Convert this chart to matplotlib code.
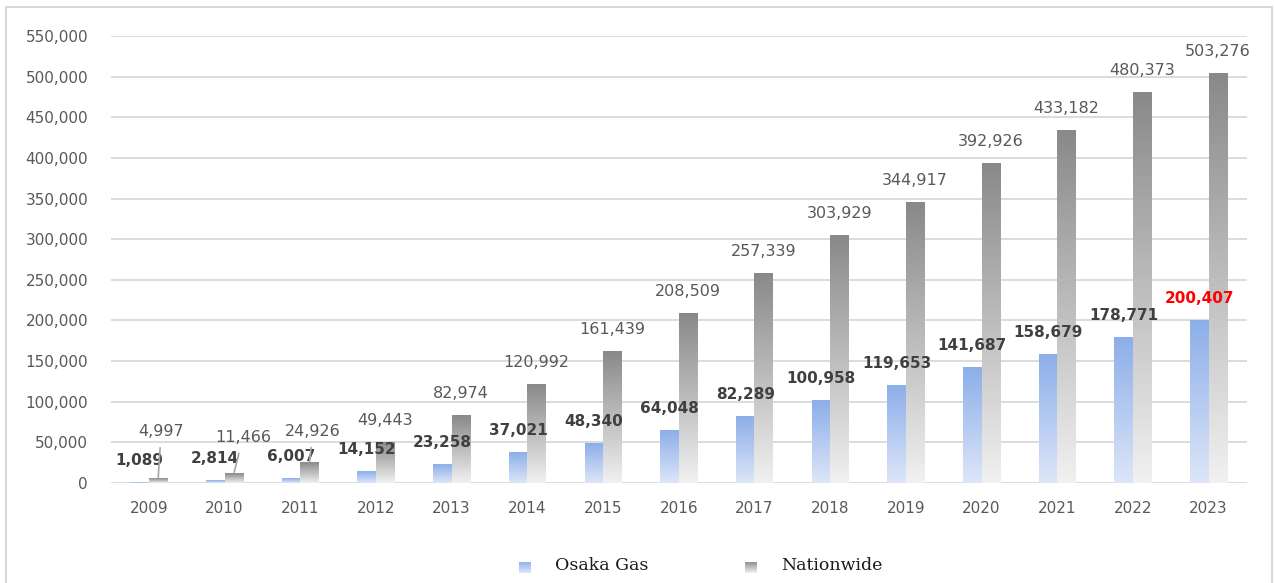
import numpy as np
import matplotlib
matplotlib.use('Agg')
import matplotlib.pyplot as plt
from matplotlib.colors import LinearSegmentedColormap
from matplotlib.patches import Rectangle
from matplotlib.ticker import FuncFormatter

# ========================= DATA =========================
years = ['2009', '2010', '2011', '2012', '2013', '2014', '2015', '2016',
         '2017', '2018', '2019', '2020', '2021', '2022', '2023']
osaka_gas = [1089, 2814, 6007, 14152, 23258, 37021, 48340, 64048,
             82289, 100958, 119653, 141687, 158679, 178771, 200407]
nationwide = [4997, 11466, 24926, 49443, 82974, 120992, 161439, 208509,
              257339, 303929, 344917, 392926, 433182, 480373, 503276]
series_names = ['Osaka Gas', 'Nationwide']

# colours (top, bottom) of the gradient fills
BLUE = ('#8caee9', '#dde6f8')
GREY = ('#898989', '#f1f1f1')
TXT = '#595959'

W, H = 1274, 583
fig = plt.figure(figsize=(W / 100, H / 100), dpi=100)
ax = fig.add_axes([111 / W, 100 / H, (1246.5 - 111) / W, 447 / H])


def gradient_bar(ax, patch, top, bottom):
    """Fill one bar with a vertical gradient (dark top, light bottom)."""
    x0, w, h = patch.get_x(), patch.get_width(), patch.get_height()
    cmap = LinearSegmentedColormap.from_list('g', [bottom, top])
    grad = np.linspace(0, 1, 256).reshape(-1, 1)
    ax.imshow(grad, extent=(x0, x0 + w, 0, h), origin='lower', cmap=cmap,
              aspect='auto', zorder=2, interpolation='bilinear')


x = np.arange(len(years))
bw = 0.245
bars_o = ax.bar(x - bw / 2, osaka_gas, bw, color='none', zorder=2)
bars_n = ax.bar(x + bw / 2, nationwide, bw, color='none', zorder=2)
for p in bars_o:
    gradient_bar(ax, p, *BLUE)
for p in bars_n:
    gradient_bar(ax, p, *GREY)

ax.set_xlim(-0.5, len(years) - 0.5)
ax.set_ylim(0, 550000)
ax.set_yticks(np.arange(0, 550001, 50000))
ax.yaxis.set_major_formatter(FuncFormatter(lambda v, _: f'{v:,.0f}'))
ax.set_xticks(x)
ax.set_xticklabels(years)
ax.grid(True, axis='y', color='#d9d9d9', linewidth=1.3, zorder=0)
ax.set_axisbelow(True)
for s in ax.spines.values():
    s.set_visible(False)
ax.tick_params(axis='y', length=0, pad=16.5, labelsize=11, labelcolor=TXT)
ax.tick_params(axis='x', length=0, pad=13, labelsize=11, labelcolor=TXT)

# data labels
for i, p in enumerate(bars_o):
    cx = p.get_x() + p.get_width() / 2
    color = 'red' if i == len(years) - 1 else '#404040'
    ax.annotate(f'{osaka_gas[i]:,}', (cx, p.get_height()), xytext=(0, 22),
                textcoords='offset pixels', ha='center', va='center',
                fontsize=11, fontweight='bold', color=color, zorder=5)

# labels moved away from small bars, with leader lines (pixel offsets)
moved = {0: (3, 47), 1: (9, 36), 2: (3, 31)}
for i, p in enumerate(bars_n):
    cx = p.get_x() + p.get_width() / 2
    if i in moved:
        ax.annotate(f'{nationwide[i]:,}', (cx, p.get_height()), xytext=moved[i],
                    textcoords='offset pixels', ha='center', va='center',
                    fontsize=11.5, color=TXT, zorder=5,
                    arrowprops=dict(arrowstyle='-', color='#a6a6a6', lw=1.2,
                                    shrinkA=4, shrinkB=1))
    else:
        ax.annotate(f'{nationwide[i]:,}', (cx, p.get_height()), xytext=(0, 22),
                    textcoords='offset pixels', ha='center', va='center',
                    fontsize=11.5, color=TXT, zorder=5)

# legend: gradient squares + serif text
grad = np.linspace(0, 1, 64).reshape(-1, 1)
for (sx, tx), name, cols in zip([(519, 555), (745, 781)], series_names, [BLUE, GREY]):
    lax = fig.add_axes([sx / W, (H - 573) / H, 12 / W, 11 / H])
    lax.imshow(grad, origin='lower', aspect='auto',
               cmap=LinearSegmentedColormap.from_list('l', [cols[1], cols[0]]))
    lax.axis('off')
    fig.text(tx / W, (H - 566) / H, name, ha='left', va='center',
             fontsize=12.5, family='DejaVu Serif', color='#1a1a1a')

# outer frame
fig.patches.append(Rectangle((6.5 / W, -0.05), (1271.5 - 6.5) / W, (H - 6.5) / H + 0.05,
                             transform=fig.transFigure, fill=False,
                             edgecolor='#d9d9d9', linewidth=1.5))

plt.savefig('out.png', dpi=100)
plt.close()
